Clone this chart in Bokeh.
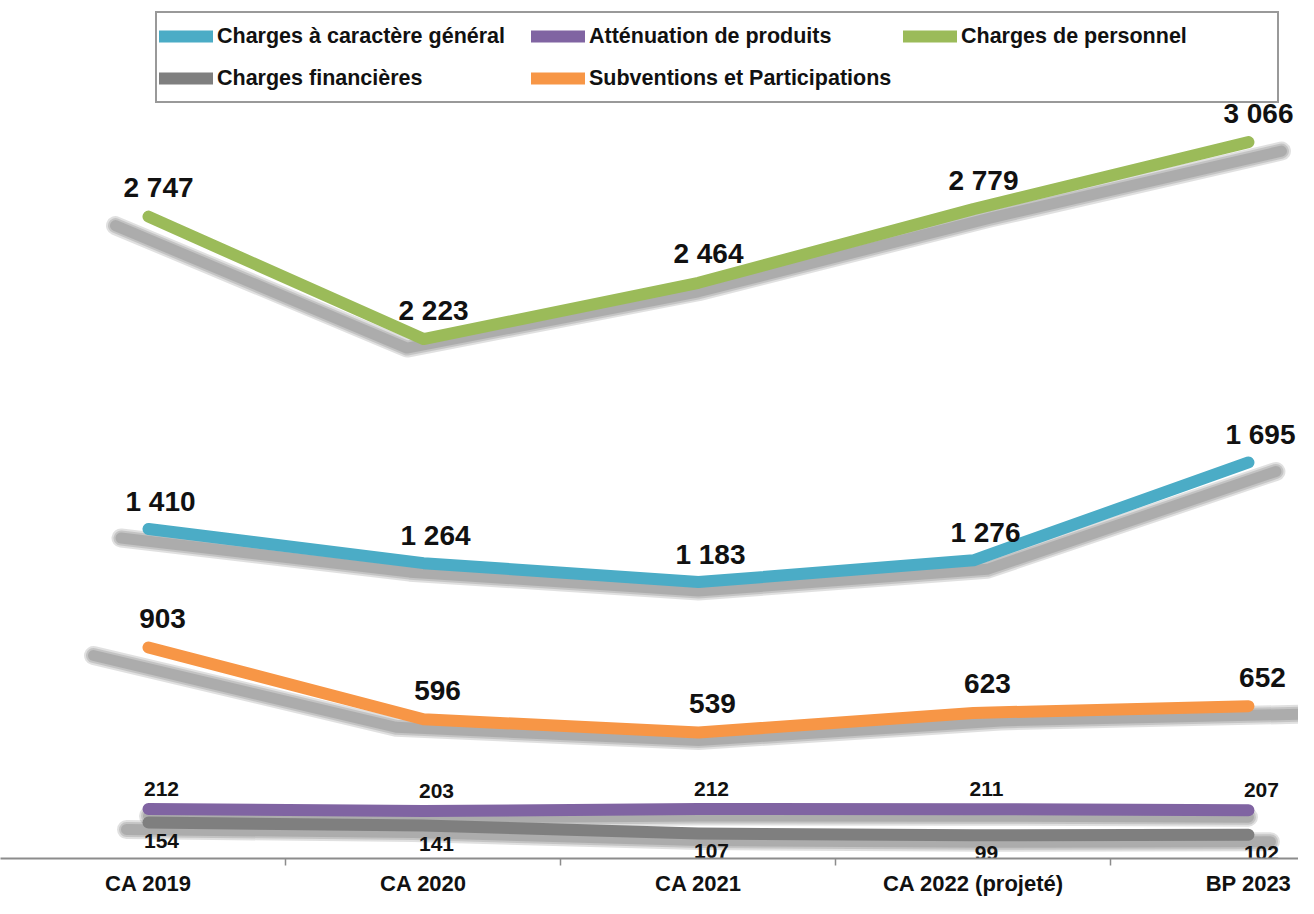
from bokeh.plotting import figure
from bokeh.models import (ColumnDataSource, Range1d, FixedTicker, Legend, LegendItem)
from bokeh.transform import dodge
from bokeh.core.properties import value
from bokeh.embed import file_html
from bokeh.resources import INLINE

categories = ["CA 2019", "CA 2020", "CA 2021", "CA 2022 (projeté)", "BP 2023"]

charges_generales = [1410, 1264, 1183, 1276, 1695]
attenuation_produits = [212, 203, 212, 211, 207]
charges_personnel = [2747, 2223, 2464, 2779, 3066]
charges_financieres = [154, 141, 107, 99, 102]
subventions = [903, 596, 539, 623, 652]

names = ["Charges à caractère général", "Atténuation de produits", "Charges de personnel",
         "Charges financières", "Subventions et Participations"]

FONT = "Liberation Sans"

xs = [i + 0.5 for i in range(len(categories))]
cx = len(categories) / 2.0

p = figure(width=1298, height=898, output_backend="svg", toolbar_location=None,
           x_range=Range1d(-0.0382, 4.682), y_range=Range1d(0, 3672),
           min_border_left=0, min_border_right=0, min_border_top=0, min_border_bottom=0)
p.outline_line_color = None
p.xgrid.visible = False
p.ygrid.visible = False
p.yaxis.visible = False
p.background_fill_color = "white"
p.border_fill_color = "white"

ax = p.xaxis[0]
ax.ticker = FixedTicker(ticks=xs, minor_ticks=[1, 2, 3, 4])
ax.major_label_overrides = {x: c for x, c in zip(xs, categories)}
ax.major_tick_out = 0
ax.major_tick_in = 0
ax.minor_tick_out = 7
ax.minor_tick_in = 0
ax.minor_tick_line_color = "#8c8c8c"
ax.minor_tick_line_width = 1.5
ax.axis_line_color = "#8c8c8c"
ax.axis_line_width = 2
ax.major_label_standoff = 5
ax.major_label_text_font = FONT
ax.major_label_text_font_size = "22px"
ax.major_label_text_font_style = "bold"
ax.major_label_text_color = "#111111"

# (values, color, shadow stretch, shadow y px, label dx, label dy, label size)
series = [
    (subventions, "#F79646", 1.10, 8, 14, -29, "28px"),
    (charges_personnel, "#9BBB59", 1.06, 9, 10, -29, "28px"),
    (charges_generales, "#4BACC6", 1.05, 9, 12, -28, "28px"),
    (charges_financieres, "#7F7F7F", 1.04, 7, 13, 18, "21px"),
    (attenuation_produits, "#8064A2", 1.00, 7, 13, -20, "21px"),
]
ppu = 858 / 3672.0

# soft drop shadows
for vals, col, k, sy, *_ in series:
    sx = [cx + (x - cx) * k for x in xs]
    src = ColumnDataSource(dict(x=sx, y=vals))
    for w in (19, 15, 11):
        p.line(x="x", y=dodge("y", -sy / ppu), source=src, line_color="black",
               line_alpha=0.12, line_width=w, line_cap="round", line_join="round")

renderers = {}
for vals, col, k, sy, dx, dy, fs in series:
    src = ColumnDataSource(dict(x=xs, y=vals))
    r = p.line(x="x", y="y", source=src, line_color=col, line_width=12,
               line_cap="round", line_join="round")
    renderers[col] = r

for vals, col, k, sy, dx, dy, fs in series:
    labels = [f"{v:,}".replace(",", " ") for v in vals]
    src = ColumnDataSource(dict(x=xs, y=vals, t=labels))
    p.text(x="x", y="y", text="t", source=src, x_offset=dx, y_offset=dy,
           text_align="center", text_baseline="middle", text_font=value(FONT),
           text_font_size=fs, text_font_style="bold", text_color="#111111")

order = ["#4BACC6", "#8064A2", "#9BBB59", "#7F7F7F", "#F79646"]
items = [LegendItem(label=n, renderers=[renderers[c]]) for n, c in zip(names, order)]
legend = Legend(items=items, location=(155, 755), orientation="horizontal", ncols=3,
                glyph_width=54, glyph_height=42, label_height=42, label_width=314,
                label_standoff=4, spacing=0, padding=2, margin=0,
                label_text_font=FONT, label_text_font_size="21.5px",
                label_text_font_style="bold", label_text_color="#111111",
                border_line_color="#333333", border_line_width=2,
                background_fill_color="white", background_fill_alpha=1)
p.add_layout(legend, "center")

open("out.html", "w").write(file_html(p, INLINE))
